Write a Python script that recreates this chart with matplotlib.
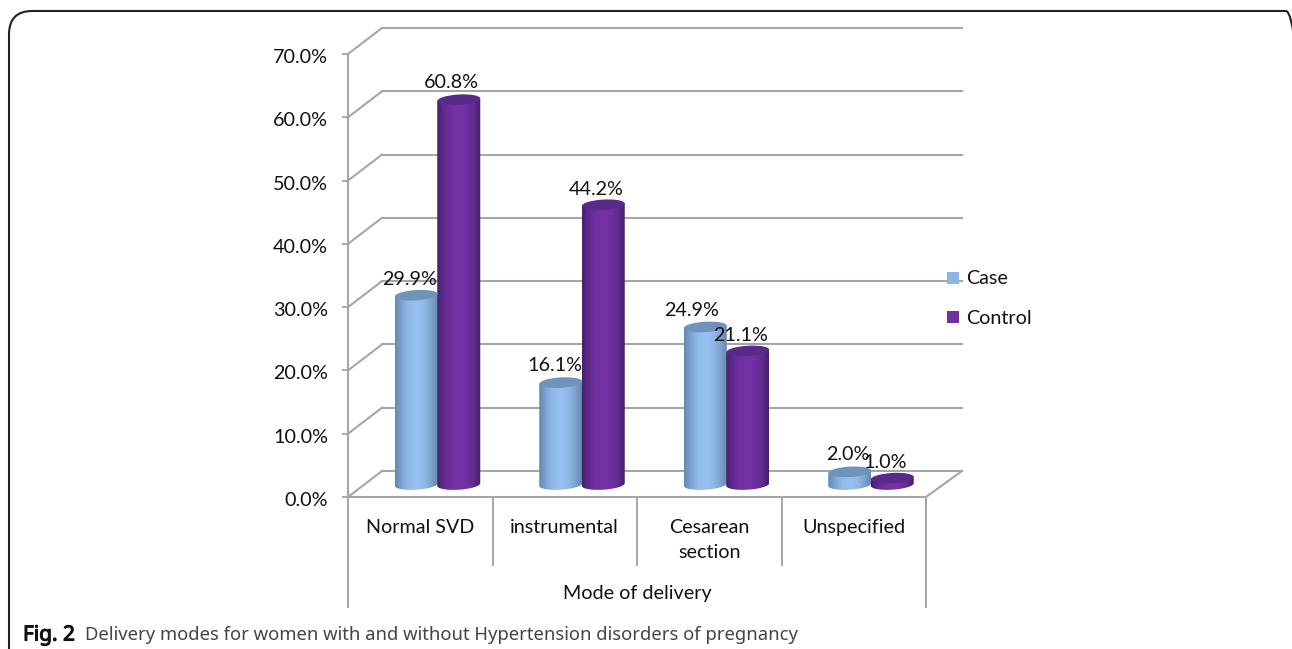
#!/usr/bin/env python3
"""Delivery modes by group, drawn as a pseudo-3D cylinder column chart."""

from __future__ import annotations

import matplotlib

matplotlib.use("Agg")

import matplotlib.patheffects as pe
import matplotlib.pyplot as plt
import numpy as np
from matplotlib.colors import LinearSegmentedColormap
from matplotlib.patches import Ellipse, FancyBboxPatch, Polygon, Rectangle
from matplotlib.transforms import Affine2D, ScaledTranslation

categories = ["Normal SVD", "instrumental", "Cesarean\nsection", "Unspecified"]
case_values = [29.9, 16.1, 24.9, 2.0]
control_values = [60.8, 44.2, 21.1, 1.0]
y_ticks = [0, 10, 20, 30, 40, 50, 60, 70]
series_names = ["Case", "Control"]
caption_bold = "Fig. 2"
caption_rest = "Delivery modes for women with and without Hypertension disorders of pregnancy"
group_title = "Mode of delivery"

W, H = 1292, 649
LEFT, RIGHT, BOTTOM, TOP = 348, 926, 497, 54
GRID = "#a6a6a6"
TEXT = "#111111"

plt.rcParams["font.family"] = ["Lato", "DejaVu Sans"]

PX_X = 4 / (RIGHT - LEFT)
PX_Y = 70 / (BOTTOM - TOP)


def bar_body(ax, x, value, colors, width=43, tilt=3.5, ry=5.2):
    """Draw one cylinder whose centre line sits at x, in data units."""
    rx = width / 2
    base = 12.5 * PX_Y
    y0, y1 = base, base + value
    cmap = LinearSegmentedColormap.from_list("body", colors["body"])
    slope = np.tan(np.radians(tilt))

    # outline in pixel offsets, so the tilt stays a true rotation on screen
    a = np.linspace(0, np.pi, 40)
    ex = rx * np.cos(a)
    low = -ry * np.sin(a) + ex * slope
    xs = np.concatenate([x + ex * PX_X, x - ex * PX_X])
    ys = np.concatenate([y0 + low * PX_Y, y1 - ex * slope * PX_Y])
    body = Polygon(np.column_stack([xs, ys]), closed=True, fc="none", ec="none", clip_on=False)
    ax.add_patch(body)

    grad = cmap(np.linspace(0, 1, 128)).reshape(1, 128, 4)
    im = ax.imshow(
        grad,
        extent=(x - rx * PX_X, x + rx * PX_X, y0 - 8 * PX_Y, y1 + 8 * PX_Y),
        aspect="auto",
        zorder=3,
        interpolation="bilinear",
    )
    im.set_clip_path(body)

    # cap is built in pixels, then rotated and placed through the data transform
    cap = Ellipse((0, 0), 2 * rx, 2 * ry, fc=colors["cap"], ec="none", zorder=3.1, clip_on=False)
    cap.set_transform(
        Affine2D().rotate_deg(tilt) + Affine2D().scale(PX_X, PX_Y).translate(x, y1) + ax.transData
    )
    ax.add_patch(cap)


def main() -> None:
    fig = plt.figure(figsize=(W / 100, H / 100), dpi=100)
    ax = fig.add_axes(
        [LEFT / W, 1 - BOTTOM / H, (RIGHT - LEFT) / W, (BOTTOM - TOP) / H], facecolor="none"
    )

    # journal figure frame
    fig.add_artist(
        FancyBboxPatch(
            (9 / W, -40 / H),
            1300 / W,
            (H + 40 - 11) / H,
            boxstyle="round,pad=0,rounding_size=0.018",
            transform=fig.transFigure,
            fc="none",
            ec="#222222",
            lw=1.5,
            mutation_aspect=2.0,
        )
    )

    dx, dy = 34 * PX_X, 26 * PX_Y
    for v in y_ticks:
        ax.plot([0, dx], [v, v + dy], color=GRID, lw=1.5, clip_on=False, zorder=1)
        ax.plot([dx, 4 + 36 * PX_X], [v + dy, v + dy], color=GRID, lw=1.5, clip_on=False, zorder=1)
    ax.plot([4, 4 + 36 * PX_X], [0, dy], color=GRID, lw=1.5, clip_on=False, zorder=1)

    blue = {
        "body": ["#6488b2", "#7fa5d2", "#92bbec", "#98c0f2", "#92bbec", "#7fa5d2", "#6488b2"],
        "cap": "#7093bb",
    }
    purple = {
        "body": ["#45206c", "#632b90", "#7030a2", "#7532a8", "#7030a2", "#632b90", "#45206c"],
        "cap": "#5a2a8a",
    }

    for i in range(len(categories)):
        centre = i + 0.5 + 17 * PX_X
        bar_body(ax, centre - 21 * PX_X, case_values[i], blue)
        bar_body(ax, centre + 21.5 * PX_X, control_values[i], purple)

    ax.set_xlim(0, 4)
    ax.set_ylim(0, 70)

    for side in ["top", "right"]:
        ax.spines[side].set_visible(False)
    for side in ["left", "bottom"]:
        ax.spines[side].set_color(GRID)
        ax.spines[side].set_linewidth(1.5)
    ax.set_yticks(y_ticks, [f"{v:.1f}%" for v in y_ticks])
    ax.tick_params(axis="y", length=4.5, width=1.3, color=GRID, pad=10, labelsize=14.2, labelcolor=TEXT)
    nudge = ScaledTranslation(0, -2 / 100, fig.dpi_scale_trans)
    for lab in ax.get_yticklabels():
        lab.set_transform(lab.get_transform() + nudge)
    ax.set_xticks(np.arange(4) + 0.5, categories)
    ax.tick_params(axis="x", length=0, pad=15.5, labelsize=14.2, labelcolor=TEXT)
    for lab in ax.get_xticklabels():
        lab.set_verticalalignment("top")
        lab.set_linespacing(1.6)

    # category separators under the floor
    for x, drop in [(0, 110), (1, 68), (2, 68), (3, 68), (4, 110)]:
        ax.plot([x, x], [0, -drop * PX_Y], color=GRID, lw=1.4, clip_on=False)
    ax.text(2, -96 * PX_Y, group_title, ha="center", va="center", fontsize=14.2, color=TEXT)

    # value labels sit by hand because the cylinders overlap their neighbours
    label_px = [
        (410, 279.5, case_values[0]), (451, 83, control_values[0]),
        (555, 366, case_values[1]), (596, 189.5, control_values[1]),
        (692, 311, case_values[2]), (741, 335.5, control_values[2]),
        (848, 455, case_values[3]), (885, 462, control_values[3]),
    ]
    for px, py, v in label_px:
        fig.text(px / W, 1 - py / H, f"{v:.1f}%", ha="center", va="center", fontsize=14.2, color=TEXT, zorder=6)

    # legend
    for name, c, py in zip(series_names, ["#8db4e3", "#7030a0"], [278, 317]):
        fig.add_artist(Rectangle((947 / W, 1 - (py + 6) / H), 12 / W, 12 / H, fc=c, ec="none", transform=fig.transFigure))
        fig.text(966 / W, 1 - (py + 1) / H, name, ha="left", va="center", fontsize=14.2, color=TEXT)

    # caption; the bold run gets a thin stroke so it stays in the same face
    fig.text(
        23 / W, 1 - 635 / H, caption_bold, fontsize=15, family="Noto Sans", color="#111111", va="center",
        path_effects=[pe.withStroke(linewidth=0.8, foreground="#111111")],
    )
    fig.text(85 / W, 1 - 635 / H, caption_rest, fontsize=13.25, family="Noto Sans", color="#444444", va="center")

    fig.savefig("out.png", dpi=100)


if __name__ == "__main__":
    main()
